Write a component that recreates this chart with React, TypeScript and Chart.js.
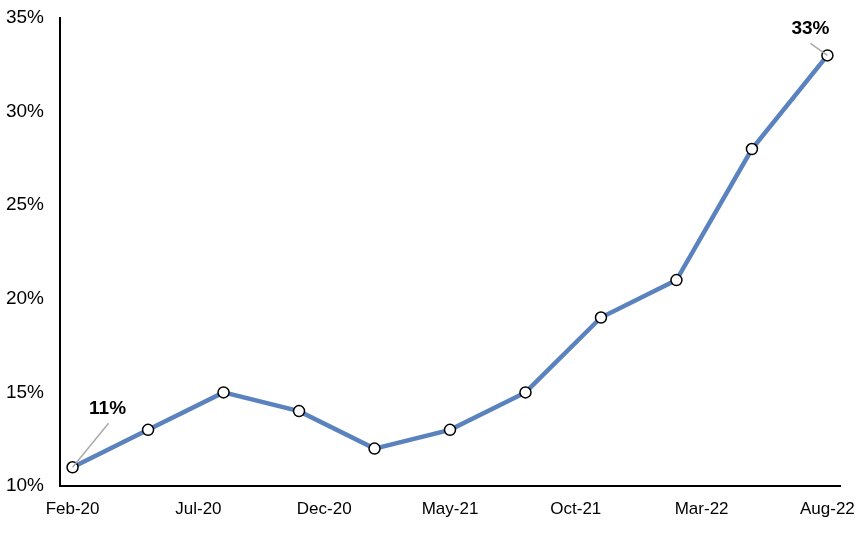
import { useEffect, useRef } from 'react';
import Chart from 'chart.js/auto';

// months since Feb-20, one point per quarter
const months = [0, 3, 6, 9, 12, 15, 18, 21, 24, 27, 30];
const share = [11, 13, 15, 14, 12, 13, 15, 19, 21, 28, 33];
const tickMonths = [0, 5, 10, 15, 20, 25, 30];
const tickLabels = ['Feb-20', 'Jul-20', 'Dec-20', 'May-21', 'Oct-21', 'Mar-22', 'Aug-22'];
const calloutIdx = [0, 10];

const FONT = '"Liberation Sans", Arial, sans-serif';

const callouts = {
  id: 'callouts',
  afterDatasetsDraw(chart: any) {
    const { ctx } = chart;
    const pts = chart.getDatasetMeta(0).data;
    ctx.save();
    calloutIdx.forEach((i) => {
      const p = pts[i];
      const first = i === 0;
      // leader line
      const lx = first ? p.x + 36 : p.x - 17;
      const ly = first ? p.y - 44 : p.y - 12;
      ctx.strokeStyle = '#aaaaaa';
      ctx.lineWidth = 1.5;
      ctx.beginPath();
      ctx.moveTo(p.x, p.y);
      ctx.lineTo(lx, ly);
      ctx.stroke();
      ctx.fillStyle = '#000';
      ctx.font = `bold 19px ${FONT}`;
      ctx.textAlign = 'center';
      ctx.textBaseline = 'middle';
      const tx = first ? p.x + 35 : p.x - 17;
      const ty = first ? p.y - 59 : p.y - 27;
      ctx.fillText(share[i] + '%', tx, ty);
    });
    ctx.restore();
  },
};

export default function App() {
  const canvasRef = useRef<HTMLCanvasElement | null>(null);
  const chartRef = useRef<Chart | null>(null);

  useEffect(() => {
    if (!canvasRef.current) return;
    if (chartRef.current) chartRef.current.destroy();

    chartRef.current = new Chart(canvasRef.current, {
      type: 'line',
      data: {
        datasets: [
          {
            data: months.map((m, i) => ({ x: m, y: share[i] })),
            borderColor: '#5a82be',
            borderWidth: 4.5,
            pointRadius: 5.5,
            pointBorderWidth: 1.5,
            pointBorderColor: '#000',
            pointBackgroundColor: '#fff',
            tension: 0,
          },
        ],
      },
      options: {
        animation: false,
        responsive: true,
        maintainAspectRatio: false,
        layout: { padding: { top: 18, right: 24, bottom: 0, left: 0 } },
        plugins: { legend: { display: false }, tooltip: { enabled: false } },
        scales: {
          x: {
            type: 'linear',
            min: -0.5,
            max: 30.5,
            afterBuildTicks: (s: any) => {
              s.ticks = tickMonths.map((v) => ({ value: v }));
            },
            afterFit: (s: any) => {
              s.height = 52;
              s.paddingLeft = 0;
              s.paddingRight = 0;
            },
            grid: { display: false, drawTicks: false },
            border: { color: '#000', width: 2 },
            ticks: {
              padding: 13,
              color: '#000',
              font: { family: FONT, size: 17 },
              maxRotation: 0,
              callback: (v: any) => tickLabels[tickMonths.indexOf(v)] ?? '',
            },
          },
          y: {
            min: 10,
            max: 35,
            afterFit: (s: any) => {
              s.width = 60;
              s.paddingTop = 0;
              s.paddingBottom = 0;
            },
            grid: { display: false, drawTicks: false },
            border: { color: '#000', width: 2 },
            ticks: {
              stepSize: 5,
              padding: 16,
              color: '#000',
              font: { family: FONT, size: 19 },
              callback: (v: any) => v + '%',
            },
          },
        },
      },
      plugins: [callouts],
    });

    return () => {
      chartRef.current?.destroy();
    };
  }, []);

  return (
    <div style={{ position: 'fixed', left: 0, top: 0, width: 864, height: 538, background: '#fff' }}>
      <canvas ref={canvasRef} />
    </div>
  );
}
